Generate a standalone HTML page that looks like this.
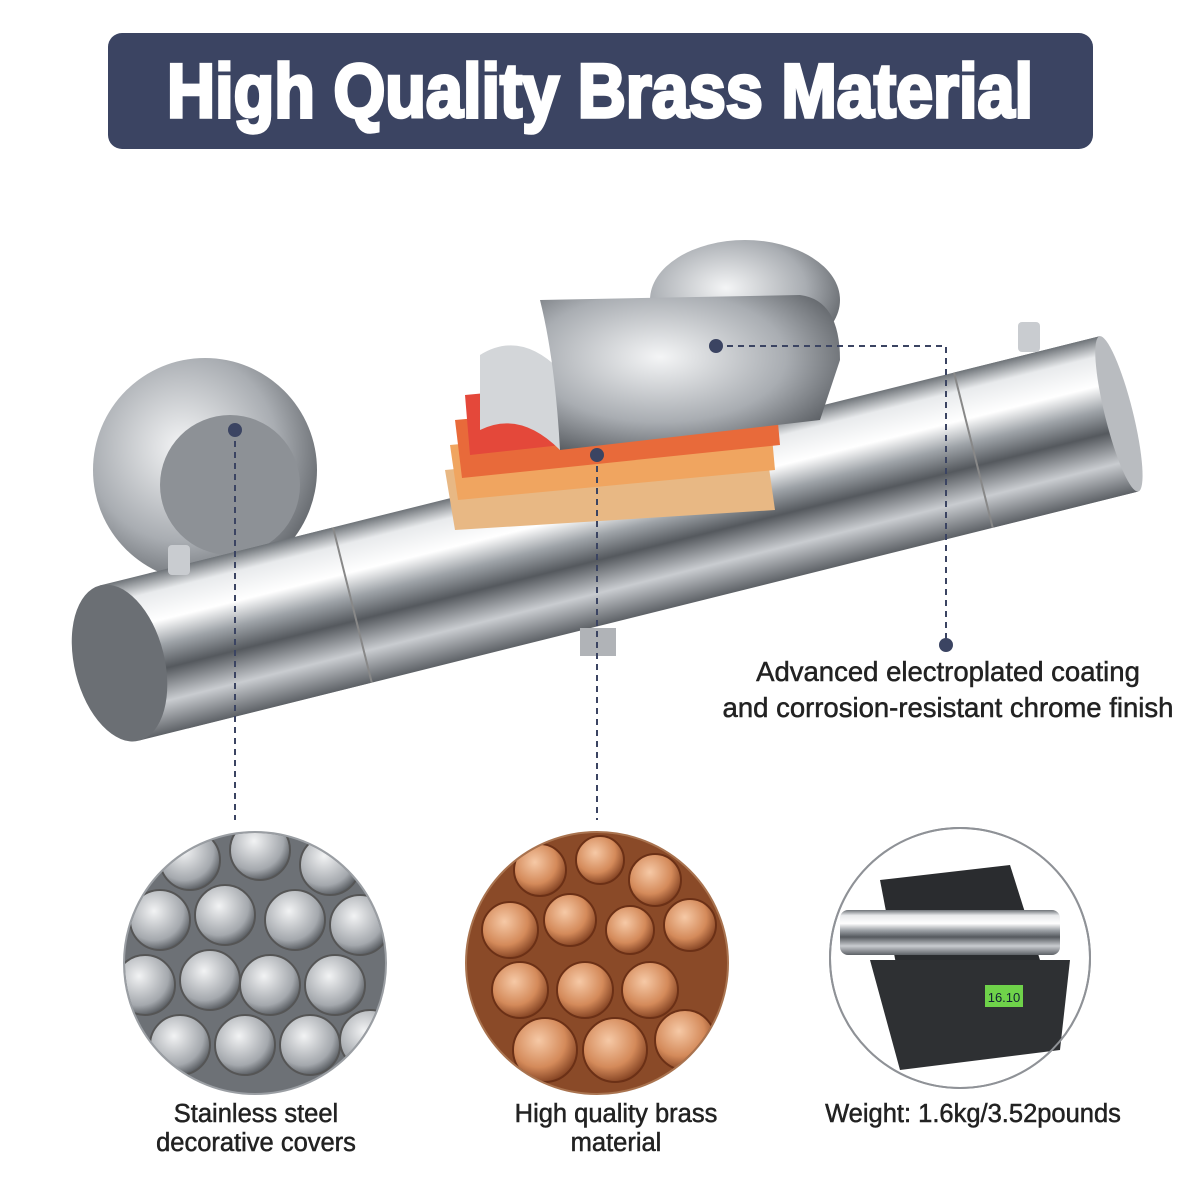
<!DOCTYPE html>
<html><head><meta charset="utf-8"><style>
html,body{margin:0;padding:0;background:#fff;}
svg{display:block;font-family:"Liberation Sans",sans-serif;}
</style></head><body>
<svg width="1200" height="1200" viewBox="0 0 1200 1200" xmlns="http://www.w3.org/2000/svg">
<defs>
<linearGradient id="chrome" x1="0" y1="0" x2="0" y2="1">
<stop offset="0" stop-color="#6e7378"/><stop offset="0.12" stop-color="#e8eaec"/><stop offset="0.3" stop-color="#ffffff"/><stop offset="0.45" stop-color="#9ea3a8"/><stop offset="0.6" stop-color="#55595e"/><stop offset="0.8" stop-color="#c9ccd0"/><stop offset="1" stop-color="#5d6166"/>
</linearGradient>
<radialGradient id="disc" cx="0.4" cy="0.4" r="0.7">
<stop offset="0" stop-color="#f4f5f6"/><stop offset="0.6" stop-color="#a9adb2"/><stop offset="1" stop-color="#55595e"/>
</radialGradient>
<radialGradient id="rodS" cx="0.4" cy="0.35" r="0.7"><stop offset="0" stop-color="#f2f3f4"/><stop offset="0.7" stop-color="#a4a8ad"/><stop offset="1" stop-color="#4a4e53"/></radialGradient>
<radialGradient id="rodC" cx="0.4" cy="0.35" r="0.7"><stop offset="0" stop-color="#f6c9a6"/><stop offset="0.6" stop-color="#d48a5a"/><stop offset="1" stop-color="#7a3a1c"/></radialGradient>
<clipPath id="c1"><circle cx="255" cy="963" r="130"/></clipPath>
<clipPath id="c2"><circle cx="597" cy="963" r="130"/></clipPath>
</defs>

<rect x="108" y="33" width="985" height="116" rx="14" fill="#3b4462"/>
<text x="600" y="117" text-anchor="middle" font-size="76" font-weight="bold" fill="#fff" stroke="#fff" stroke-width="3.5" textLength="866" lengthAdjust="spacingAndGlyphs" style="font-family:'Liberation Sans Narrow','Liberation Sans',sans-serif">High Quality Brass Material</text>

<!-- wall discs -->
<circle cx="205" cy="470" r="112" fill="url(#disc)"/>
<circle cx="230" cy="485" r="70" fill="#8d9196"/>
<ellipse cx="745" cy="300" rx="95" ry="60" fill="url(#disc)"/>

<!-- main pipe -->
<g transform="translate(120,665) rotate(-14)">
<rect x="0" y="-82" width="1030" height="160" fill="url(#chrome)"/>
<rect x="50" y="-82" width="190" height="160" fill="url(#chrome)" opacity="0.7"/>
<rect x="880" y="-82" width="150" height="160" fill="url(#chrome)" opacity="0.8"/>
<line x1="240" y1="-82" x2="240" y2="78" stroke="#888" stroke-width="2"/>
<line x1="880" y1="-82" x2="880" y2="78" stroke="#888" stroke-width="2"/>
<ellipse cx="0" cy="-2" rx="45" ry="80" fill="#6b6f74"/>
<ellipse cx="1030" cy="-2" rx="14" ry="80" fill="#b9bcc0"/>
</g>
<rect x="580" y="628" width="36" height="28" fill="#b0b3b7"/>
<rect x="168" y="545" width="22" height="30" rx="4" fill="#c9ccd0"/>
<rect x="1018" y="322" width="22" height="30" rx="4" fill="#c9ccd0"/>

<!-- layers -->
<polygon points="445,470 765,440 775,510 455,530" fill="#e8b884"/>
<polygon points="450,445 770,415 775,470 458,500" fill="#f0a560"/>
<polygon points="455,420 775,390 780,445 462,478" fill="#e86a3a"/>
<polygon points="465,395 785,365 790,420 470,455" fill="#e4483a"/>
<path d="M480,355 Q520,330 560,370 L560,450 Q520,410 480,430 Z" fill="#d3d6d9"/>
<path d="M540,300 L800,295 Q840,300 840,360 L820,420 L560,450 Q555,360 540,300 Z" fill="url(#disc)"/>

<!-- dashed connectors -->
<g stroke="#3b4462" stroke-width="2" stroke-dasharray="6,5" fill="none">
<line x1="235" y1="430" x2="235" y2="820"/>
<line x1="597" y1="455" x2="597" y2="820"/>
<polyline points="716,346 946,346 946,645"/>
</g>
<g fill="#3b4462">
<circle cx="235" cy="430" r="7"/><circle cx="597" cy="455" r="7"/><circle cx="716" cy="346" r="7"/><circle cx="946" cy="645" r="7"/>
</g>

<g fill="#222" stroke="#222" stroke-width="0.5" text-anchor="middle">
<text x="948" y="681" font-size="27.5">Advanced electroplated coating</text>
<text x="948" y="717" font-size="27.5">and corrosion-resistant chrome finish</text>
</g>

<!-- circle 1 steel -->
<circle cx="255" cy="963" r="131" fill="#6d7176"/>
<g clip-path="url(#c1)" fill="url(#rodS)" stroke="#555" stroke-width="2">
<circle cx="190" cy="860" r="30"/><circle cx="260" cy="850" r="30"/><circle cx="330" cy="865" r="30"/>
<circle cx="160" cy="920" r="30"/><circle cx="225" cy="915" r="30"/><circle cx="295" cy="920" r="30"/><circle cx="360" cy="925" r="30"/>
<circle cx="145" cy="985" r="30"/><circle cx="210" cy="980" r="30"/><circle cx="270" cy="985" r="30"/><circle cx="335" cy="985" r="30"/>
<circle cx="180" cy="1045" r="30"/><circle cx="245" cy="1045" r="30"/><circle cx="310" cy="1045" r="30"/><circle cx="370" cy="1040" r="30"/>
</g>
<circle cx="255" cy="963" r="131" fill="none" stroke="#9a9ea3" stroke-width="2"/>

<!-- circle 2 copper -->
<circle cx="597" cy="963" r="131" fill="#8a4a28"/>
<g clip-path="url(#c2)" fill="url(#rodC)" stroke="#6b3016" stroke-width="2">
<circle cx="540" cy="870" r="26"/><circle cx="600" cy="860" r="24"/><circle cx="655" cy="880" r="26"/>
<circle cx="510" cy="930" r="28"/><circle cx="570" cy="920" r="26"/><circle cx="630" cy="930" r="24"/><circle cx="690" cy="925" r="26"/>
<circle cx="520" cy="990" r="28"/><circle cx="585" cy="990" r="28"/><circle cx="650" cy="990" r="28"/>
<circle cx="545" cy="1050" r="32"/><circle cx="615" cy="1050" r="32"/><circle cx="685" cy="1040" r="30"/>
</g>
<circle cx="597" cy="963" r="131" fill="none" stroke="#a9734f" stroke-width="2"/>

<!-- circle 3 scale -->
<circle cx="960" cy="958" r="130" fill="#fff" stroke="#8f9297" stroke-width="2"/>
<polygon points="880,880 1010,865 1040,960 900,985" fill="#2a2c2f"/>
<polygon points="870,960 1070,960 1060,1050 900,1070" fill="#2e3033"/>
<rect x="985" y="985" width="38" height="22" fill="#6fd24a"/>
<text x="1004" y="1002" text-anchor="middle" font-size="13" fill="#123">16.10</text>
<rect x="840" y="910" width="220" height="45" rx="8" fill="url(#chrome)"/>
<circle cx="960" cy="958" r="130" fill="none" stroke="#8f9297" stroke-width="2"/>

<g font-size="25.5" fill="#222" stroke="#222" stroke-width="0.5" text-anchor="middle">
<text x="256" y="1122">Stainless steel</text>
<text x="256" y="1151">decorative covers</text>
<text x="616" y="1122">High quality brass</text>
<text x="616" y="1151">material</text>
<text x="973" y="1122">Weight: 1.6kg/3.52pounds</text>
</g>
</svg>
</body></html>
